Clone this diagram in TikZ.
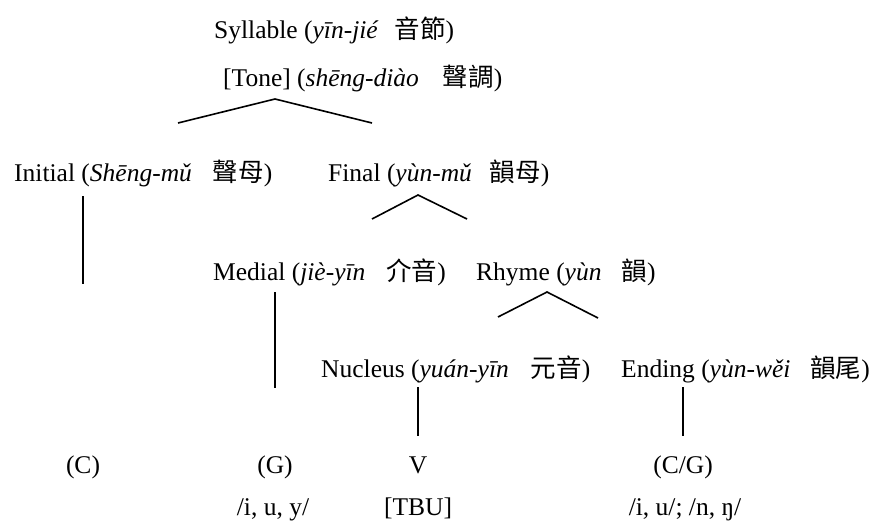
\documentclass[tikz,border=0pt]{standalone}
\usepackage{fontspec}
\setmainfont{Liberation Serif}
\newfontfamily\cjk{Noto Sans CJK TC}
% gap before the Chinese characters, and the characters themselves
\newcommand{\zh}[2][16pt]{\hspace{#1}{\cjk #2}}
\begin{document}
\begin{tikzpicture}[x=1pt,y=-1pt,
  every node/.style={inner sep=0pt, font=\fontsize{25.5}{30}\selectfont},
  lbl/.style={anchor=base west},
  leaf/.style={anchor=base},
  branch/.style={line width=1.6pt}]
\useasboundingbox (0,0) rectangle (875,522);

% syllable level
\node[lbl] (syl)  at (214,38) {Syllable (\textit{yīn-jié}\zh{音節})};
\node[lbl] (tone) at (223,86) {[Tone] (\textit{shēng-diào}\zh[24pt]{聲調})};

% initial / final
\node[lbl] (ini) at (14,181)  {Initial (\textit{Shēng-mǔ}\zh[21pt]{聲母})};
\node[lbl] (fin) at (328,181) {Final (\textit{yùn-mǔ}\zh[18pt]{韻母})};

% medial / rhyme
\node[lbl] (med) at (213,280) {Medial (\textit{jiè-yīn}\zh[21pt]{介音})};
\node[lbl] (rhy) at (476,280) {Rhyme (\textit{yùn}\zh[20pt]{韻})};

% nucleus / ending
\node[lbl] (nuc) at (321,377) {Nucleus (\textit{yuán-yīn}\zh[22pt]{元音})};
\node[lbl] (end) at (621,377) {Ending (\textit{yùn-wěi}\zh[20pt]{韻尾})};

% segment slots
\node[leaf] (sC)  at (83,473)  {(C)};
\node[leaf] (sG)  at (275,473) {(G)};
\node[leaf] (sV)  at (418,473) {V};
\node[leaf] (sCG) at (683,473) {(C/G)};

% segment inventories
\node[leaf] (gG)  at (273,515) {/i, u, y/};
\node[leaf] (gV)  at (418,515) {[TBU]};
\node[leaf] (gCG) at (685,515) {/i, u/; /n, ŋ/};

% branch points
\coordinate (sylL) at (178,123);
\coordinate (sylP) at (275,99);
\coordinate (sylR) at (372,123);
\coordinate (finL) at (372,219);
\coordinate (finP) at (418,195);
\coordinate (finR) at (467,219);
\coordinate (rhyL) at (498,317);
\coordinate (rhyP) at (547,292);
\coordinate (rhyR) at (598,318);

\draw[branch] (sylL) -- (sylP) -- (sylR);
\draw[branch] (finL) -- (finP) -- (finR);
\draw[branch] (rhyL) -- (rhyP) -- (rhyR);

% vertical links down to the segment slots
\coordinate (iniTop) at (83,196);  \coordinate (iniBot) at (83,284);
\coordinate (medTop) at (275,292); \coordinate (medBot) at (275,388);
\coordinate (nucTop) at (418,387); \coordinate (nucBot) at (418,436);
\coordinate (endTop) at (683,387); \coordinate (endBot) at (683,436);
\draw[branch] (iniTop) -- (iniBot);
\draw[branch] (medTop) -- (medBot);
\draw[branch] (nucTop) -- (nucBot);
\draw[branch] (endTop) -- (endBot);
\end{tikzpicture}
\end{document}
